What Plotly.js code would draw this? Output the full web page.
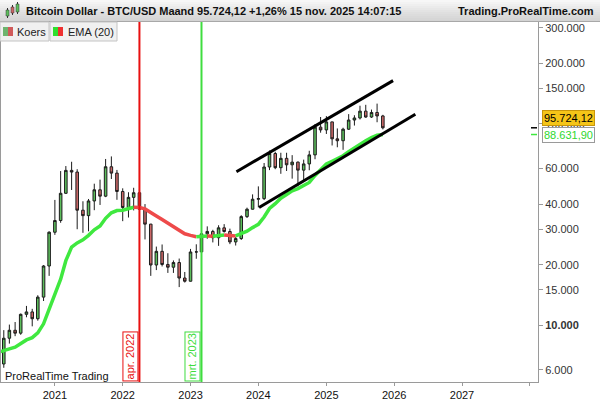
<!DOCTYPE html>
<html><head><meta charset="utf-8">
<script src="https://cdn.plot.ly/plotly-3.0.1.min.js"></script>
<style>html,body{margin:0;padding:0;background:#fff}#chart{width:600px;height:400px}</style>
</head><body><div id="chart"></div>
<script>
// ---- data (monthly BTC/USD) ----
const months = ['2020-03-01','2020-04-01','2020-05-01','2020-06-01','2020-07-01','2020-08-01','2020-09-01','2020-10-01','2020-11-01','2020-12-01',
'2021-01-01','2021-02-01','2021-03-01','2021-04-01','2021-05-01','2021-06-01','2021-07-01','2021-08-01','2021-09-01','2021-10-01','2021-11-01','2021-12-01',
'2022-01-01','2022-02-01','2022-03-01','2022-04-01','2022-05-01','2022-06-01','2022-07-01','2022-08-01','2022-09-01','2022-10-01','2022-11-01','2022-12-01',
'2023-01-01','2023-02-01','2023-03-01','2023-04-01','2023-05-01','2023-06-01','2023-07-01','2023-08-01','2023-09-01','2023-10-01','2023-11-01','2023-12-01',
'2024-01-01','2024-02-01','2024-03-01','2024-04-01','2024-05-01','2024-06-01','2024-07-01','2024-08-01','2024-09-01','2024-10-01','2024-11-01','2024-12-01',
'2025-01-01','2025-02-01','2025-03-01','2025-04-01','2025-05-01','2025-06-01','2025-07-01','2025-08-01','2025-09-01','2025-10-01','2025-11-01'];
const openP = [8544,6424,8624,9446,9137,11335,11650,10780,13800,19700,
28990,33140,45240,58800,57700,37300,35040,41460,47100,43790,61300,57000,
46200,38480,43190,45540,37700,31800,19930,23300,20050,19430,20490,17170,
16550,23130,23150,28470,29250,27220,30480,29230,25940,26960,34660,37720,
42280,42580,61130,71330,60640,67490,62680,64620,58970,63330,70220,96400,
93430,102400,84370,82550,94200,104600,107100,115800,108250,114050,109600];
const highP = [9188,9460,10080,10380,11440,12480,12070,14100,19900,29300,
41950,58350,61800,64900,59600,41300,42400,50500,52900,67000,69000,59100,
47900,45800,48200,47400,40000,31900,24600,25200,22800,21000,21450,18400,
23950,25250,29200,31000,29800,31400,31800,30200,27500,35200,38400,44700,
48970,64000,73800,72800,71950,71950,70000,65100,66500,73600,99800,108300,
109400,102500,95000,95800,111900,110500,123200,124500,117900,126200,111000];
const lowP = [3850,6150,8110,8830,8970,10960,9880,10540,13200,17600,
28130,32300,45000,47000,30000,28800,29300,37300,39600,43300,53300,42000,
32900,34300,37200,37700,26700,17600,18800,19600,18200,18200,15480,16300,
16500,21400,19550,26900,25800,24800,28860,25300,24900,26550,34100,37600,
38500,41880,59000,59600,56550,58400,53500,49000,52550,58900,66800,90500,
89200,78200,76600,74400,93400,98200,105300,107300,107200,102000,94000];
const closeP = [6424,8624,9446,9137,11335,11650,10780,13800,19700,28990,
33140,45240,58800,57700,37300,35040,41460,47100,43790,61300,57000,46200,
38480,43190,45540,37700,31800,19930,23300,20050,19430,20490,17170,16550,
23130,23150,28470,29250,27220,30480,29230,25940,26960,34660,37720,42280,
42580,61130,71330,60640,67490,62680,64620,58970,63330,70220,96400,93430,
102400,84370,82550,94200,104600,107100,115800,108250,114050,109600,95724.12];
const ema20 = [7326,7450,7640,7783,8121,8457,8678,9166,10169,11961,
13977,16953,20937,24437,25662,26555,27974,29795,31127,33999,36189,37142,
37269,37833,38567,38484,37848,36142,34919,33503,32163,31052,29730,28475,
27966,27508,27600,27757,27706,27970,28090,27885,27797,28450,29333,30566,
31710,34511,38016,40170,42771,44666,46566,47747,49230,51228,55528,59136,
63255,65265,66911,69509,72850,76111,79889,82589,85584,87870,88631.90];

// channel trend lines (start / end)
const upperDates = ['2023-09-05','2025-12-26'];
const upperPrices = [57900,164200];
const lowerDates = ['2024-01-05','2026-04-25'];
const lowerPrices = [38500,111800];

// vertical marker lines
const markerDates = ['2022-04-01','2023-03-01'];
const markerLabels = ['apr. 2022','mrt. 2023'];
const markerColors = ['#E81010','#3FDD3F'];

// axis ticks
const yTickVals = [6000,10000,15000,20000,30000,40000,60000,100000,150000,200000,300000];
const yTickText = ['6.000','<b>10.000</b>','15.000','20.000','30.000','40.000','60.000','100.000','150.000','200.000','300.000'];
const xTickVals = ['2021-01-01','2022-01-01','2023-01-01','2024-01-01','2025-01-01','2026-01-01','2027-01-01','2028-01-01'];
const xTickText = ['2021','2022','2023','2024','2025','2026','2027',''];

const titleText = 'Bitcoin Dollar - BTC/USD Maand 95.724,12 +1,26% 15 nov. 2025 14:07:15';
const lastPriceText = '95.724,12';
const lastEmaText = '88.631,90';

// ---- layout geometry ----
const W = 600, H = 400, M = {l:1, r:62, t:22, b:18};
const pw = W - M.l - M.r, ph = H - M.t - M.b;
const px = x => (x - M.l) / pw;
const py = y => (H - M.b - y) / ph;
const FONT = 'Liberation Sans, Arial, sans-serif';

const GREEN = '#3FE83F', RED = '#EE4A4A';

const traces = [];
traces.push({
  type:'candlestick', x: months, open: openP, high: highP, low: lowP, close: closeP,
  increasing:{line:{color:'#1c1c1c', width:1}, fillcolor:'#5CBE5C'},
  decreasing:{line:{color:'#1c1c1c', width:1}, fillcolor:'#CC6868'},
  whiskerwidth:0, hoverinfo:'skip', showlegend:false
});

// EMA coloured by direction
let runs = [], cur = null;
for (let i = 1; i < months.length; i++) {
  const up = ema20[i] >= ema20[i-1];
  if (!cur || cur.up !== up) { cur = {up, x:[months[i-1]], y:[ema20[i-1]]}; runs.push(cur); }
  cur.x.push(months[i]); cur.y.push(ema20[i]);
}
runs.forEach(r => traces.push({type:'scatter', mode:'lines', x:r.x, y:r.y,
  line:{color: r.up ? GREEN : RED, width:3.5}, hoverinfo:'skip', showlegend:false}));

traces.push({type:'scatter', mode:'lines', x:upperDates, y:upperPrices, line:{color:'#000', width:3}, hoverinfo:'skip', showlegend:false});
traces.push({type:'scatter', mode:'lines', x:lowerDates, y:lowerPrices, line:{color:'#000', width:3}, hoverinfo:'skip', showlegend:false});

const shapes = [];
// header gradient
const hdrCols = ['#f7f7f7','#f3f3f3','#efefef','#ebebeb','#e7e7e7','#e3e3e3','#dfdfdf','#dcdcdc','#d9d9d9','#d6d6d6','#d3d3d3'];
hdrCols.forEach((c,i) => shapes.push({type:'rect', xref:'paper', yref:'paper', x0:px(0), x1:px(W), y0:py(i*2+2), y1:py(i*2), fillcolor:c, line:{width:0}, layer:'above'}));
shapes.push({type:'line', xref:'paper', yref:'paper', x0:px(0), x1:px(W), y0:py(21.5), y1:py(21.5), line:{color:'#a8a8a8', width:1}, layer:'above'});
// header icon (tiny candles)
[[6,10,16,'#5CBE5C'],[11,7,13,'#CC6868'],[16,4,12,'#5CBE5C']].forEach(([x,t,b,c]) => {
  shapes.push({type:'line', xref:'paper', yref:'paper', x0:px(x+1.5), x1:px(x+1.5), y0:py(t-2), y1:py(b+2), line:{color:'#333', width:1}, layer:'above'});
  shapes.push({type:'rect', xref:'paper', yref:'paper', x0:px(x), x1:px(x+3), y0:py(b), y1:py(t), fillcolor:c, line:{color:'#333', width:0.5}, layer:'above'});
});
// legend boxes
[[0,49],[50,117]].forEach(([a,b]) => shapes.push({type:'rect', xref:'paper', yref:'paper', x0:px(a), x1:px(b), y0:py(41), y1:py(22), fillcolor:'#f0f0f0', line:{color:'#c4c4c4', width:1}, layer:'above'}));
[[3,'#6EB46E','#D05A5A'],[53,'#2EE02E','#EE3030']].forEach(([x,g,r]) => {
  shapes.push({type:'rect', xref:'paper', yref:'paper', x0:px(x), x1:px(x+5), y0:py(36), y1:py(27), fillcolor:g, line:{width:0}, layer:'above'});
  shapes.push({type:'rect', xref:'paper', yref:'paper', x0:px(x+5), x1:px(x+10), y0:py(36), y1:py(27), fillcolor:r, line:{width:0}, layer:'above'});
});
// vertical marker lines
markerDates.forEach((d,i) => shapes.push({type:'line', xref:'x', yref:'paper', x0:d, x1:d, y0:0, y1:1, line:{color:markerColors[i], width:2}, layer:'above'}));
// last value dashes
shapes.push({type:'line', xref:'paper', yref:'y', x0:px(531), x1:px(537), y0:closeP[closeP.length-1], y1:closeP[closeP.length-1], line:{color:'#000', width:1.5}});
shapes.push({type:'line', xref:'paper', yref:'y', x0:px(531), x1:px(537), y0:ema20[ema20.length-1], y1:ema20[ema20.length-1], line:{color:GREEN, width:1.5}});

const annotations = [];
annotations.push({xref:'paper', yref:'paper', x:px(24), y:py(11), xanchor:'left', yanchor:'middle', showarrow:false,
  text:'<b>'+titleText+'</b>', font:{family:FONT, size:11, color:'#111'}});
annotations.push({xref:'paper', yref:'paper', x:px(596), y:py(11), xanchor:'right', yanchor:'middle', showarrow:false,
  text:'<b>Trading.ProRealTime.com</b>', font:{family:FONT, size:11, color:'#111'}});
annotations.push({xref:'paper', yref:'paper', x:px(15), y:py(31.5), xanchor:'left', yanchor:'middle', showarrow:false,
  text:'Koers', font:{family:FONT, size:11, color:'#222'}});
annotations.push({xref:'paper', yref:'paper', x:px(66), y:py(31.5), xanchor:'left', yanchor:'middle', showarrow:false,
  text:'EMA (20)', font:{family:FONT, size:11, color:'#222'}});
annotations.push({xref:'paper', yref:'paper', x:px(3), y:py(376), xanchor:'left', yanchor:'middle', showarrow:false,
  text:'ProRealTime Trading', font:{family:FONT, size:11, color:'#111'}});
markerDates.forEach((d,i) => annotations.push({xref:'x', yref:'paper', x:d, y:0, xanchor:'right', yanchor:'bottom', xshift:-1, yshift:1,
  showarrow:false, textangle:-90, text:markerLabels[i], font:{family:FONT, size:11, color:markerColors[i]},
  bgcolor:'#ffffff', bordercolor:markerColors[i], borderwidth:1, borderpad:1}));
annotations.push({xref:'paper', yref:'y', x:1, y:Math.log10(closeP[closeP.length-1]), xanchor:'left', yanchor:'middle', xshift:4, yshift:10,
  showarrow:false, text:lastPriceText, font:{family:FONT, size:11, color:'#000'}, bgcolor:'#F5C518', bordercolor:'#C8960A', borderwidth:1, borderpad:1});
annotations.push({xref:'paper', yref:'y', x:1, y:Math.log10(ema20[ema20.length-1]), xanchor:'left', yanchor:'middle', xshift:4,
  showarrow:false, text:lastEmaText, font:{family:FONT, size:11, color:'#2ED82E'}, bgcolor:'#ffffff', bordercolor:'#9a9a9a', borderwidth:1, borderpad:1});

const layout = {
  width:W, height:H, margin:M, paper_bgcolor:'#fff', plot_bgcolor:'#fff', showlegend:false,
  font:{family:FONT, size:11, color:'#222'},
  xaxis:{type:'date', range:['2020-03-17','2028-02-14'], tickvals:xTickVals, ticktext:xTickText,
    ticks:'outside', ticklen:3, tickcolor:'#9a9a9a', showline:true, linecolor:'#9a9a9a', mirror:true,
    showgrid:false, zeroline:false, rangeslider:{visible:false}, fixedrange:true,
    tickfont:{family:FONT, size:11, color:'#111'}},
  yaxis:{type:'log', side:'right', range:[Math.log10(5227), Math.log10(321000)], tickvals:yTickVals, ticktext:yTickText,
    ticks:'outside', ticklen:4, tickcolor:'#9a9a9a', showline:true, linecolor:'#9a9a9a', mirror:true,
    showgrid:false, zeroline:false, fixedrange:true, tickfont:{family:FONT, size:11, color:'#333'}},
  shapes, annotations
};
Plotly.newPlot('chart', traces, layout, {staticPlot:true, displayModeBar:false});
</script>
</body></html>
